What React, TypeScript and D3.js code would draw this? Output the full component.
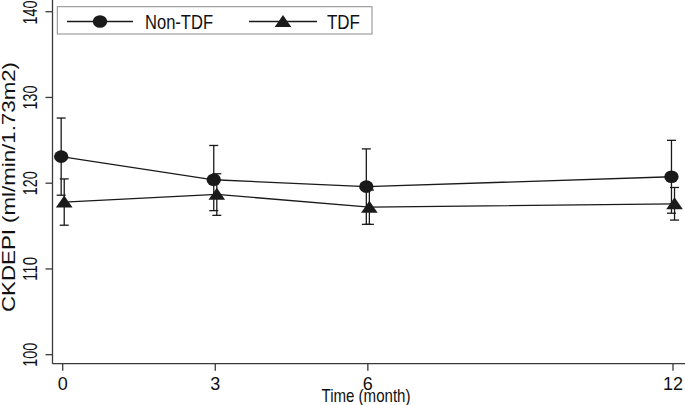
import React from "react";
import * as d3 from "d3";

const months = [0, 3, 6, 12];
const nonTdfMean = [123.1, 120.4, 119.6, 120.75];
const nonTdfUpper = [127.6, 124.4, 124.0, 125.0];
const nonTdfLower = [118.6, 116.8, 115.2, 116.5];
const tdfMean = [117.8, 118.7, 117.2, 117.6];
const tdfUpper = [120.5, 121.1, 119.2, 119.5];
const tdfLower = [115.1, 116.25, 115.2, 115.7];
const yTicks = [100, 110, 120, 130, 140];
const xTicks = [0, 3, 6, 12];
const seriesNames = ["Non-TDF", "TDF"];
const yTitle = "CKDEPI (ml/min/1.73m2)";
const xTitle = "Time (month)";

const FONT = "'Liberation Sans Narrow', 'Liberation Sans', Arial, sans-serif";
const INK = "#1a1a1a";
const AXIS = "#3a3a3a";

export default function App() {
  const x = d3.scaleLinear().domain([0, 12]).range([62.7, 673]);
  const y = d3.scaleLinear().domain([100, 140]).range([354.7, 11.7]);
  const axisY = 363.7;
  const axisX = 52.5;
  const dodge = 0.03;

  const series = [
    { name: seriesNames[0], mean: nonTdfMean, lo: nonTdfLower, hi: nonTdfUpper, off: -dodge, marker: "circle" },
    { name: seriesNames[1], mean: tdfMean, lo: tdfLower, hi: tdfUpper, off: dodge, marker: "triangle" },
  ];

  const line = d3
    .line<[number, number]>()
    .x((d) => d[0])
    .y((d) => d[1]);

  const marker = (type: string, cx: number, cy: number, key: string) =>
    type === "circle" ? (
      <ellipse key={key} cx={cx} cy={cy} rx={7.2} ry={6.3} fill={INK} />
    ) : (
      <path key={key} d={`M${cx},${cy - 6.5} L${cx + 8.3},${cy + 5.5} L${cx - 8.3},${cy + 5.5} Z`} fill={INK} />
    );

  return (
    <svg
      width={685}
      height={405}
      style={{ position: "absolute", left: 0, top: 0, background: "#fff" }}
      fontFamily={FONT}
    >
      <rect x={0} y={0} width={685} height={405} fill="#fff" />
      {/* axes */}
      <line x1={axisX} y1={0} x2={axisX} y2={axisY} stroke={AXIS} strokeWidth={1.3} />
      <line x1={axisX} y1={axisY} x2={685} y2={axisY} stroke={AXIS} strokeWidth={1.3} />
      {yTicks.map((t) => (
        <g key={"yt" + t}>
          <line x1={axisX - 7} x2={axisX} y1={y(t)} y2={y(t)} stroke={AXIS} strokeWidth={1.3} />
          <text
            transform={`translate(37,${Math.max(y(t), 12.5)}) rotate(-90)`}
            textAnchor="middle"
            fontSize={19.5}
            textLength={24}
            lengthAdjust="spacingAndGlyphs"
            fill="#111"
          >
            {t}
          </text>
        </g>
      ))}
      {xTicks.map((t) => (
        <g key={"xt" + t}>
          <line x1={x(t)} x2={x(t)} y1={axisY} y2={axisY + 7} stroke={AXIS} strokeWidth={1.3} />
          <text x={x(t)} y={389.5} textAnchor="middle" fontSize={18} fill="#111">
            {t}
          </text>
        </g>
      ))}
      <text
        transform={`translate(15,187) rotate(-90)`}
        textAnchor="middle"
        fontSize={18}
        textLength={250}
        lengthAdjust="spacingAndGlyphs"
        fill="#111"
      >
        {yTitle}
      </text>
      <text x={366} y={401.5} textAnchor="middle" fontSize={19} textLength={89} lengthAdjust="spacingAndGlyphs" fill="#111">
        {xTitle}
      </text>

      {/* series lines */}
      {series.map((s) => (
        <path
          key={"l" + s.name}
          d={line(months.map((m, i) => [x(m + s.off), y(s.mean[i])]))!}
          fill="none"
          stroke={INK}
          strokeWidth={1.3}
        />
      ))}
      {/* error bars */}
      {series.map((s) =>
        months.map((m, i) => {
          const cx = x(m + s.off);
          return (
            <g key={"e" + s.name + m} stroke={INK} strokeWidth={1.3}>
              <line x1={cx} x2={cx} y1={y(s.lo[i])} y2={y(s.hi[i])} />
              <line x1={cx - 4.5} x2={cx + 4.5} y1={y(s.lo[i])} y2={y(s.lo[i])} />
              <line x1={cx - 4.5} x2={cx + 4.5} y1={y(s.hi[i])} y2={y(s.hi[i])} />
            </g>
          );
        })
      )}
      {/* markers */}
      {series.map((s) => months.map((m, i) => marker(s.marker, x(m + s.off), y(s.mean[i]), "m" + s.name + m)))}

      {/* legend */}
      <rect x={57.3} y={6.7} width={314.7} height={27.3} fill="#fff" stroke="#8a8a8a" strokeWidth={1} />
      <line x1={67} x2={133} y1={21.5} y2={21.5} stroke={INK} strokeWidth={1.3} />
      {marker("circle", 100, 21.5, "lg1")}
      <text x={145} y={28.5} fontSize={20} textLength={68} lengthAdjust="spacingAndGlyphs" fill="#111">
        {seriesNames[0]}
      </text>
      <line x1={249} x2={317} y1={21.5} y2={21.5} stroke={INK} strokeWidth={1.3} />
      {marker("triangle", 283, 21.5, "lg2")}
      <text x={327} y={28.5} fontSize={20} textLength={33} lengthAdjust="spacingAndGlyphs" fill="#111">
        {seriesNames[1]}
      </text>
    </svg>
  );
}
